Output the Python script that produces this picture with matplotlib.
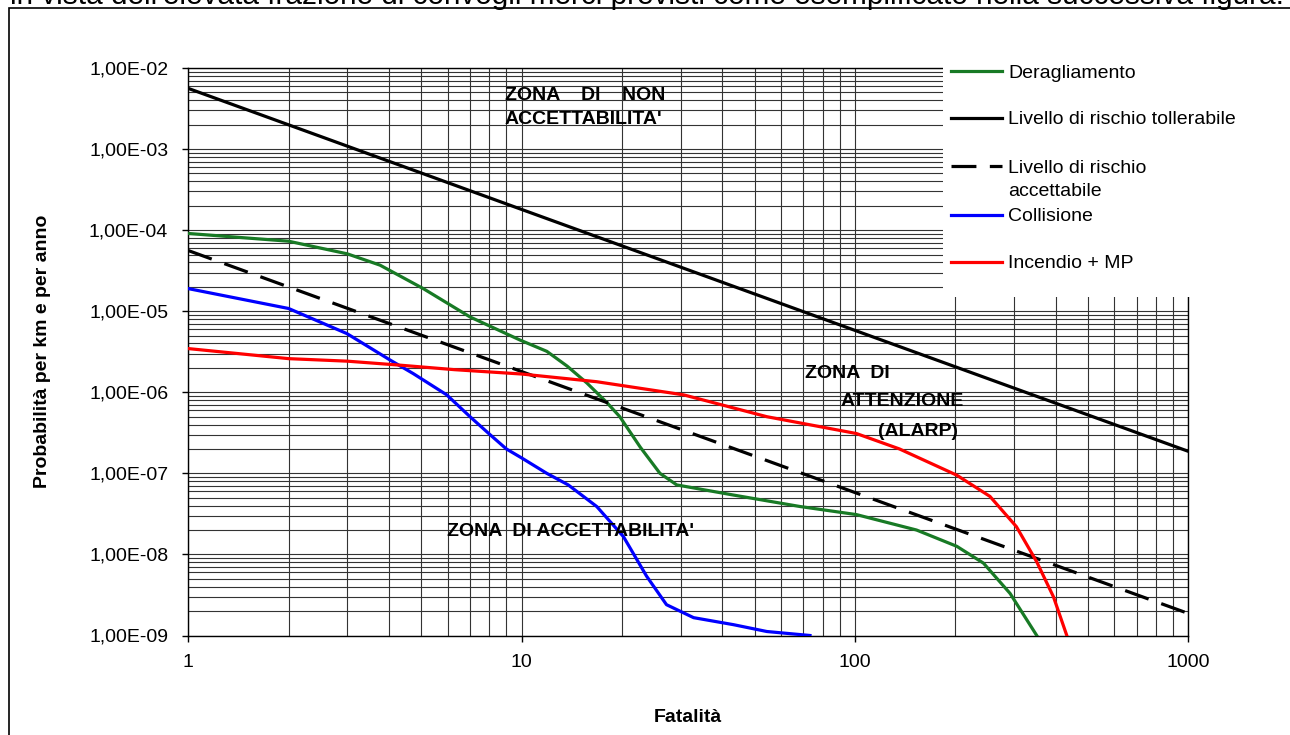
import matplotlib
matplotlib.use("Agg")
import matplotlib.pyplot as plt
from matplotlib.ticker import LogLocator, FuncFormatter, NullFormatter
from matplotlib.patches import Rectangle

plt.rcParams['font.family'] = ['Liberation Sans', 'DejaVu Sans']

# values (fatalities vs probability per km and year)
der_x = [1, 2, 3, 3.76, 5.07, 7.0, 9.9, 11.9, 13.7, 15.7, 18.0, 19.7, 22.7, 26.0,
         29.2, 43.2, 68.4, 101, 153, 202, 243, 292, 351]
der_y = [9.1e-5, 7.3e-5, 5.1e-5, 3.7e-5, 1.9e-5, 8.5e-6, 4.4e-6, 3.2e-6, 2.1e-6,
         1.3e-6, 7.5e-7, 5.0e-7, 2.1e-7, 1.0e-7, 7.2e-8, 5.4e-8, 3.9e-8, 3.1e-8,
         2.0e-8, 1.26e-8, 7.8e-9, 3.3e-9, 1.0e-9]

col_x = [1, 2, 2.99, 4.03, 4.73, 5.96, 7.0, 8.04, 9.0, 10, 11.9, 13.8, 16.8, 20.2,
         23.7, 27.2, 32.8, 43.2, 54.4, 73.3]
col_y = [1.9e-5, 1.08e-5, 5.3e-6, 2.5e-6, 1.7e-6, 9.3e-7, 5.0e-7, 3.0e-7, 2.0e-7,
         1.55e-7, 1.0e-7, 7.2e-8, 3.9e-8, 1.66e-8, 5.4e-9, 2.4e-9, 1.66e-9,
         1.36e-9, 1.12e-9, 1.0e-9]

inc_x = [1, 2, 3, 4.32, 6.3, 10, 16.8, 30.6, 54.4, 101, 136, 202, 254, 305, 351, 394, 432]
inc_y = [3.46e-6, 2.6e-6, 2.42e-6, 2.16e-6, 1.9e-6, 1.68e-6, 1.35e-6, 9.3e-7, 5.0e-7,
         3.1e-7, 2.0e-7, 9.5e-8, 5.2e-8, 2.2e-8, 8.1e-9, 3.0e-9, 1.0e-9]

lim_x = [1, 10, 100, 1000]
toll_y = [5.6e-3, 1.8e-4, 5.8e-6, 1.87e-7]
acc_y = [5.6e-5, 1.8e-6, 5.8e-8, 1.87e-9]

labels = ['Deragliamento', 'Livello di rischio tollerabile',
          'Livello di rischio\naccettabile', 'Collisione', 'Incendio + MP']
green, blue, red = '#187a25', '#0000ff', '#ff0000'

W, H = 1290, 735
fig = plt.figure(figsize=(W / 100, H / 100), dpi=100)

# page text cut off above the chart and the frame around the chart
fig.text(10 / W, 1 - 3.5 / H, "in vista dell'elevata frazione di convogli merci "
         "previsti come esemplificato nella successiva figura.",
         fontsize=21.4, va='baseline', ha='left')
fig.add_artist(Rectangle((9 / W, -0.1), 1.2, 1.1 - 8.5 / H, transform=fig.transFigure,
                         fill=False, lw=1.2, ec='black'))

ax = fig.add_axes([188.3 / W, 1 - 635.5 / H, 1000 / W, 567.5 / H])
ax.set_xscale('log')
ax.set_yscale('log')
ax.set_xlim(1, 1000)
ax.set_ylim(1e-9, 1e-2)

lw = 2.3
ax.plot(der_x, der_y, color=green, lw=lw, zorder=3)
ax.plot(lim_x, toll_y, color='black', lw=lw, zorder=3)
ax.plot(lim_x, acc_y, color='black', lw=lw, dashes=(7.8, 4.2), zorder=3)
ax.plot(col_x, col_y, color=blue, lw=lw, zorder=3)
ax.plot(inc_x, inc_y, color=red, lw=lw, zorder=3)

for axis in (ax.xaxis, ax.yaxis):
    axis.set_major_locator(LogLocator(base=10))
    axis.set_minor_locator(LogLocator(base=10, subs=range(2, 10)))
    axis.set_minor_formatter(NullFormatter())
ax.yaxis.set_major_formatter(FuncFormatter(lambda v, p: f"{v:.2E}".replace('.', ',')))
ax.xaxis.set_major_formatter(FuncFormatter(lambda v, p: f"{v:g}"))
ax.grid(True, which='both', color='#333333', lw=0.8)
ax.tick_params(which='major', direction='out', length=4.5, width=1, labelsize=14)
ax.tick_params(axis='y', pad=10)
ax.tick_params(axis='x', pad=9)
ax.tick_params(which='minor', length=0)
for s in ax.spines.values():
    s.set_linewidth(1)

ax.set_xlabel('Fatalità', fontsize=14, fontweight='bold', labelpad=27)
ax.set_ylabel('Probabilità per km e per anno', fontsize=14, fontweight='bold', labelpad=27)

# zone labels
zfont = dict(fontsize=14, fontweight='bold', zorder=4)
ax.text(8.9, 3.27e-3, "ZONA    DI    NON\nACCETTABILITA'", ha='left', va='center',
        linespacing=1.5, **zfont)
ax.text(70.8, 1.72e-6, "ZONA  DI", ha='left', va='center', **zfont)
ax.text(90.2, 7.6e-7, "ATTENZIONE", ha='left', va='center', **zfont)
ax.text(117, 3.3e-7, "(ALARP)", ha='left', va='center', **zfont)
ax.text(5.96, 1.91e-8, "ZONA  DI ACCETTABILITA'", ha='left', va='center', **zfont)

# legend box drawn in pixel units, Excel style (handle on first text line)
x0, x1, y0, y1 = 943, 1265, 60, 297
lax = fig.add_axes([x0 / W, 1 - y1 / H, (x1 - x0) / W, (y1 - y0) / H])
lax.set_xlim(x0, x1)
lax.set_ylim(y1, y0)
lax.set_facecolor('white')
for s in lax.spines.values():
    s.set_visible(False)
lax.set_xticks([])
lax.set_yticks([])
lax.set_zorder(5)
styles = [dict(color=green), dict(color='black'), dict(color='black', dashes=(7.8, 4.2)),
          dict(color=blue), dict(color=red)]
rows = [71, 118, 166, 215, 262]
for lab, st, yy in zip(labels, styles, rows):
    lax.plot([951, 1002], [yy, yy], lw=lw, **st)
    extra = 23 * lab.count('\n')
    lax.text(1008, yy + 6.5 + extra, lab, fontsize=14, va='baseline', ha='left',
             linespacing=1.45)

fig.savefig('out.png', dpi=100)
